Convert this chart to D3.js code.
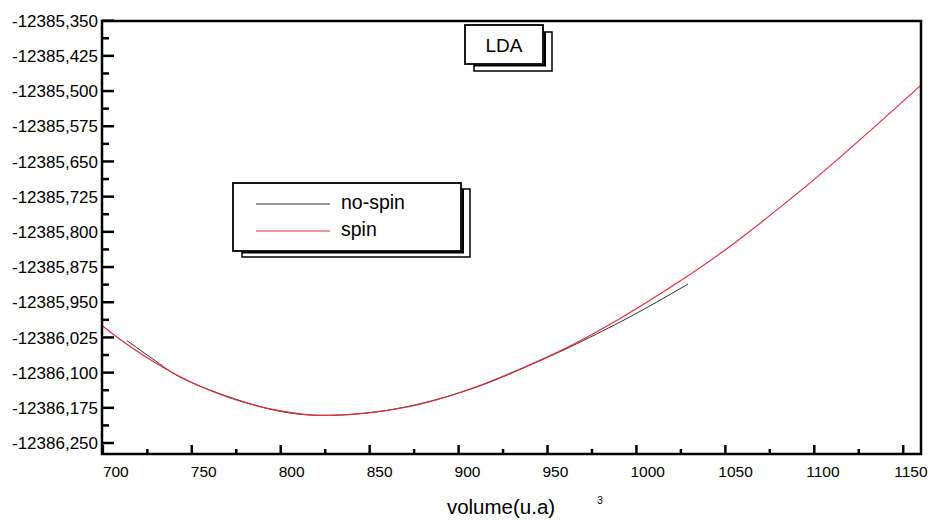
<!DOCTYPE html>
<html>
<head>
<meta charset="utf-8">
<script src="https://cdn.jsdelivr.net/npm/d3@7"></script>
<style>
  html, body { margin: 0; padding: 0; background: #fff; }
  svg text { font-family: "Liberation Sans", Arial, sans-serif; fill: #000; }
</style>
</head>
<body>
<div id="chart"></div>
<script>
// spin curve (red)
const spinX = [699.5, 714.06, 733.18, 751.74, 770.30, 789.43, 807.99, 823.17, 845.67, 864.23, 881.10, 906.41, 934.53, 962.65, 990.78, 1018.90, 1047.02, 1080.76, 1108.89, 1137.01, 1160.0];
const spinY = [-12385.9996, -12386.0412, -12386.0876, -12386.1243, -12386.1524, -12386.1735, -12386.1861, -12386.1910, -12386.1867, -12386.1776, -12386.1648, -12386.1350, -12386.0924, -12386.0434, -12385.9848, -12385.9188, -12385.8463, -12385.7479, -12385.6594, -12385.5657, -12385.4873];
// no-spin curve (black)
const nospinX = [713.5, 733.18, 751.74, 789.43, 823.17, 864.23, 906.41, 934.53, 962.65, 990.78, 1010.46, 1029.02];
const nospinY = [-12386.0316, -12386.0849, -12386.1243, -12386.1735, -12386.1910, -12386.1776, -12386.1356, -12386.0934, -12386.0454, -12385.9922, -12385.9517, -12385.9112];

const xTicks = [700, 750, 800, 850, 900, 950, 1000, 1050, 1100, 1150];
const xMinor = [725, 775, 825, 875, 925, 975, 1025, 1075, 1125];
const yTicks = [-12386.250, -12386.175, -12386.100, -12386.025, -12385.950, -12385.875, -12385.800, -12385.725, -12385.650, -12385.575, -12385.500, -12385.425, -12385.350];
const yMinor = [-12386.2125, -12386.1375, -12386.0625, -12385.9875, -12385.9125, -12385.8375, -12385.7625, -12385.6875, -12385.6125, -12385.5375, -12385.4625, -12385.3875];

const series = [
  { name: 'no-spin', xs: nospinX, ys: nospinY, color: '#333333', w: 1 },
  { name: 'spin', xs: spinX, ys: spinY, color: '#e0303c', w: 1.2 }
];

const width = 931, height = 520;
const m = { left: 102, right: 921, top: 21, bottom: 454 };

const svg = d3.select('#chart').append('svg')
  .attr('width', width).attr('height', height);

const x = d3.scaleLinear().domain([699.5, 1160]).range([m.left, m.right]);
const y = d3.scaleLinear().domain([-12386.2734, -12385.3507]).range([m.bottom, m.top]);

const fmt = d3.formatLocale({ decimal: ',', thousands: '', grouping: [3], currency: ['', ''], minus: '-' }).format('.3f');

// curves
const line = d3.line().x(d => x(d[0])).y(d => y(d[1])).curve(d3.curveNatural);
series.forEach(s => {
  svg.append('path')
    .datum(s.xs.map((v, i) => [v, s.ys[i]]))
    .attr('fill', 'none')
    .attr('stroke', s.color)
    .attr('stroke-width', s.w)
    .attr('d', line);
});

// y ticks (inward)
svg.selectAll('line.ymaj').data(yTicks).enter().append('line')
  .attr('x1', m.left).attr('x2', m.left + 12)
  .attr('y1', d => y(d)).attr('y2', d => y(d))
  .attr('stroke', '#000').attr('stroke-width', 2.5);
svg.selectAll('line.ymin').data(yMinor).enter().append('line')
  .attr('x1', m.left).attr('x2', m.left + 7)
  .attr('y1', d => y(d)).attr('y2', d => y(d))
  .attr('stroke', '#000').attr('stroke-width', 2.5);
svg.selectAll('text.ylab').data(yTicks).enter().append('text')
  .attr('x', 98).attr('y', d => y(d)).attr('dy', '0.36em')
  .attr('text-anchor', 'end').attr('font-size', '17px')
  .text(d => fmt(d));

// x ticks (inward)
svg.selectAll('line.xmaj').data(xTicks).enter().append('line')
  .attr('x1', d => x(d)).attr('x2', d => x(d))
  .attr('y1', m.bottom).attr('y2', m.bottom - 9)
  .attr('stroke', '#000').attr('stroke-width', 2.5);
svg.selectAll('line.xmin').data(xMinor).enter().append('line')
  .attr('x1', d => x(d)).attr('x2', d => x(d))
  .attr('y1', m.bottom).attr('y2', m.bottom - 5)
  .attr('stroke', '#000').attr('stroke-width', 2.5);
svg.selectAll('text.xlab').data(xTicks).enter().append('text')
  .attr('x', d => x(d) - (d - 700) / 50 * 1.0)
  .attr('y', 477)
  .attr('font-size', '15.5px')
  .text(d => d);

// frame
svg.append('rect')
  .attr('x', m.left).attr('y', m.top)
  .attr('width', m.right - m.left).attr('height', m.bottom - m.top)
  .attr('fill', 'none').attr('stroke', '#000').attr('stroke-width', 2.5);

// axis title
svg.append('text').attr('x', 501).attr('y', 514).attr('text-anchor', 'middle')
  .attr('font-size', '20.5px').text('volume(u.a)');
svg.append('text').attr('x', 600).attr('y', 504).attr('text-anchor', 'middle')
  .attr('font-size', '10px').text('3');

// boxes with the shadow outline
function shadowBox(x0, y0, x1, y1, dx, dy) {
  const g = svg.append('g');
  g.append('rect').attr('x', x0 + dx).attr('y', y0 + dy)
    .attr('width', x1 - x0).attr('height', y1 - y0)
    .attr('fill', 'none').attr('stroke', '#000').attr('stroke-width', 1.5);
  g.append('rect').attr('x', x0).attr('y', y0)
    .attr('width', x1 - x0).attr('height', y1 - y0)
    .attr('fill', '#fff').attr('stroke', '#000').attr('stroke-width', 1.8);
  g.append('path')
    .attr('d', `M${x0 + dx},${y1 + 1.5}H${x1 + 2}V${y0 + dy}`)
    .attr('fill', 'none').attr('stroke', '#000').attr('stroke-width', 2);
  return g;
}

shadowBox(465, 25, 543, 64, 9, 7);
svg.append('text').attr('x', 504).attr('y', 52).attr('text-anchor', 'middle')
  .attr('font-size', '19px').text('LDA');

shadowBox(233, 183, 461, 251, 9, 6);
series.forEach((s, i) => {
  const ly = 204 + i * 27;
  svg.append('line').attr('x1', 256).attr('x2', 330).attr('y1', ly).attr('y2', ly)
    .attr('stroke', s.color).attr('stroke-width', 1);
  svg.append('text').attr('x', 341).attr('y', ly).attr('dy', '0.27em')
    .attr('font-size', '19.5px').text(s.name);
});
</script>
</body>
</html>
